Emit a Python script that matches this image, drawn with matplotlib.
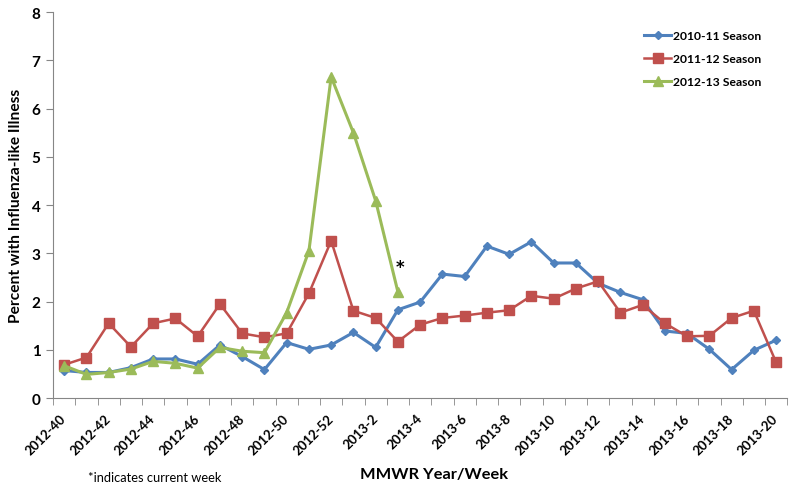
import numpy as np
import matplotlib
matplotlib.use("Agg")
import matplotlib.pyplot as plt

# weeks 2012-40 .. 2012-52, 2013-1 .. 2013-20
weeks = ["2012-%d" % w for w in range(40, 53)] + ["2013-%d" % w for w in range(1, 21)]

season_2010_11 = [0.57, 0.53, 0.53, 0.63, 0.81, 0.81, 0.70, 1.10, 0.86, 0.59,
                  1.15, 1.01, 1.10, 1.36, 1.05, 1.83, 1.99, 2.57, 2.52, 3.15,
                  2.98, 3.24, 2.80, 2.80, 2.38, 2.19, 2.04, 1.39, 1.34, 1.01,
                  0.59, 0.99, 1.20]
season_2011_12 = [0.69, 0.84, 1.55, 1.06, 1.55, 1.65, 1.28, 1.95, 1.34, 1.26,
                  1.34, 2.17, 3.26, 1.81, 1.66, 1.17, 1.52, 1.66, 1.71, 1.77,
                  1.82, 2.12, 2.06, 2.27, 2.42, 1.77, 1.93, 1.55, 1.28, 1.29,
                  1.66, 1.81, 0.74]
season_2012_13 = [0.67, 0.49, 0.53, 0.60, 0.76, 0.72, 0.62, 1.05, 0.97, 0.94,
                  1.77, 3.05, 6.66, 5.50, 4.09, 2.20]

plt.rcParams['font.family'] = ['Lato', 'DejaVu Sans']

fig = plt.figure(figsize=(7.92, 4.89), dpi=100)
ax = fig.add_axes([0.067, 0.184, 0.927, 0.789])

x = np.arange(len(weeks))
ax.plot(x, season_2010_11, color="#4F81BD", lw=2.2, marker="D", ms=4.5,
        label="2010-11 Season")
ax.plot(x, season_2011_12, color="#C0504D", lw=1.8, marker="s", ms=6.5,
        label="2011-12 Season")
ax.plot(x[:len(season_2012_13)], season_2012_13, color="#9BBB59", lw=2.2,
        marker="^", ms=7, label="2012-13 Season")

# current week marker
ax.text(15.1, 2.72, "*", fontsize=12, fontweight="bold", family="DejaVu Sans",
        ha="center", va="center")

ax.set_xlim(-0.5, len(weeks) - 0.5)
ax.set_ylim(0, 8)
ax.set_yticks(range(0, 9))
ax.set_xticks(x[::2])
ax.set_xticklabels(weeks[::2], rotation=45, ha="right", va="center",
                   rotation_mode="anchor", fontsize=9.5, fontweight="bold")
ax.set_xticks(np.arange(-0.5, len(weeks)), minor=True)
ax.tick_params(axis="x", which="major", length=0, pad=13)
ax.tick_params(axis="x", which="minor", length=5, color="#868686")
ax.tick_params(axis="y", length=5, color="#868686", labelsize=11, pad=4)
for lab in ax.get_yticklabels():
    lab.set_fontweight("bold")

for s in ["top", "right"]:
    ax.spines[s].set_visible(False)
for s in ["left", "bottom"]:
    ax.spines[s].set_color("#868686")

ax.set_ylabel("Percent with Influenza-like Illness", fontsize=11.2, fontweight="bold",
              labelpad=6)

leg = ax.legend(loc="upper left", bbox_to_anchor=(0.797, 0.97), frameon=False,
                fontsize=8.7, labelspacing=1.0, handlelength=2.2, handletextpad=0.2,
                borderpad=0)
for t in leg.get_texts():
    t.set_fontweight("bold")

fig.text(434 / 792, 1 - 475 / 489, "MMWR Year/Week", fontsize=11.8, fontweight="bold",
         ha="center", va="center")
fig.text(88 / 792, 1 - 478 / 489, "*indicates current week", fontsize=9.3,
         ha="left", va="center")

fig.savefig("out.png", dpi=100)
